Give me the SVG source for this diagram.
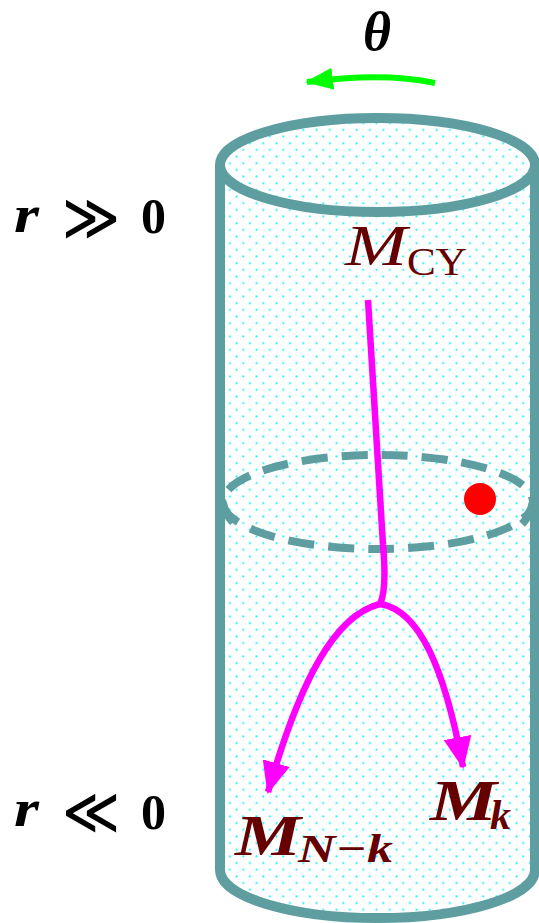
<svg xmlns="http://www.w3.org/2000/svg" width="539" height="923" viewBox="0 0 539 923">
<defs>
<pattern id="dots" x="0" y="0" width="13.33" height="13.33" patternUnits="userSpaceOnUse">
<circle cx="3.3" cy="3.3" r="1.1" fill="#22eeff"/>
<circle cx="9.97" cy="9.97" r="1.1" fill="#22eeff"/>
</pattern>
<marker id="mh" viewBox="0 0 32 28" refX="30" refY="14" markerWidth="32" markerHeight="28" orient="auto" markerUnits="userSpaceOnUse">
<path d="M0,0 L32,14 L0,28 Z" fill="#ff00ff"/>
</marker>
<marker id="gh" viewBox="0 0 28 22" refX="26" refY="11" markerWidth="28" markerHeight="22" orient="auto" markerUnits="userSpaceOnUse">
<path d="M0,0 L28,11 L0,22 Z" fill="#00ff00"/>
</marker>
</defs>
<style>
.cyl{fill:none;stroke:#5f9ea0;stroke-width:10;stroke-linecap:butt}
.dash{fill:none;stroke:#5f9ea0;stroke-width:8;stroke-dasharray:26 14}
.mag{fill:none;stroke:#ff00ff;stroke-width:6.5;stroke-linecap:butt}
.lab{font-family:"Liberation Serif","DejaVu Serif",serif;fill:#000}
.m{font-family:"Liberation Serif","DejaVu Serif",serif;fill:#660000;font-style:italic}
</style>
<g id="cylinder">
<path d="M220,165 V870 A157.5,48 0 0 0 535,870 V165 A157.5,47 0 0 0 220,165 Z" fill="#fff"/>
<path d="M220,165 V870 A157.5,48 0 0 0 535,870 V165 A157.5,47 0 0 0 220,165 Z" fill="url(#dots)"/>
<path class="cyl" d="M220,165 V870 A157.5,48 0 0 0 535,870 V165"/>
<path fill="none" stroke="#5f9ea0" stroke-width="8" d="M222,500 Q225,515 233,522 M533,502 Q530,516 522,524"/>
<ellipse class="cyl" cx="377.5" cy="165" rx="157.5" ry="47"/>
</g>
<g id="middle-ring">
<ellipse class="dash" cx="378" cy="502" rx="155" ry="47" stroke-dashoffset="6"/>
</g>
<g id="point">
<circle cx="480" cy="499" r="16" fill="#ff0000"/>
</g>
<g id="connectors">
<path class="mag" d="M368,300 L383,545 Q387,590 380,604"/>
<path class="mag" marker-end="url(#mh)" d="M380,604 C335,615 300,680 268,792"/>
<path class="mag" marker-end="url(#mh)" d="M380,604 C420,610 445,670 463,767"/>
<path fill="none" stroke="#00ff00" stroke-width="6" marker-end="url(#gh)" d="M435,83 Q385,72 307,82"/>
</g>
<g id="theta-label">
<text class="lab" x="363" y="50" font-size="54" font-style="italic" font-weight="bold">θ</text>
</g>
<g id="label-rpos">
<text class="lab" x="14" y="232" font-size="52" font-style="italic" font-weight="bold" textLength="25" lengthAdjust="spacingAndGlyphs">r</text>
<text class="lab" x="62" y="240" font-size="66" font-family="DejaVu Sans, sans-serif" textLength="58" lengthAdjust="spacingAndGlyphs">≫</text>
<text class="lab" x="141" y="233" font-size="50" font-weight="bold">0</text>
</g>
<g id="label-rneg">
<text class="lab" x="14" y="826" font-size="52" font-style="italic" font-weight="bold" textLength="25" lengthAdjust="spacingAndGlyphs">r</text>
<text class="lab" x="62" y="834" font-size="66" font-family="DejaVu Sans, sans-serif" textLength="58" lengthAdjust="spacingAndGlyphs">≪</text>
<text class="lab" x="141" y="829" font-size="50" font-weight="bold">0</text>
</g>
<g id="node-MCY">
<text class="m" x="345" y="265" font-size="56" textLength="62" lengthAdjust="spacingAndGlyphs">M</text>
<text x="407" y="275" font-size="40" font-family="Liberation Serif, serif" fill="#660000" textLength="60" lengthAdjust="spacingAndGlyphs">CY</text>
</g>
<g id="node-MNk">
<text class="m" x="235" y="855" font-size="56" font-weight="bold" textLength="66" lengthAdjust="spacingAndGlyphs">M</text>
<text class="m" x="298" y="862" font-size="40" font-weight="bold" textLength="95" lengthAdjust="spacingAndGlyphs">N−k</text>
</g>
<g id="node-Mk">
<text class="m" x="430" y="820" font-size="56" font-weight="bold" textLength="67" lengthAdjust="spacingAndGlyphs">M</text>
<text class="m" x="490" y="829" font-size="42" font-weight="bold">k</text>
</g>
</svg>
